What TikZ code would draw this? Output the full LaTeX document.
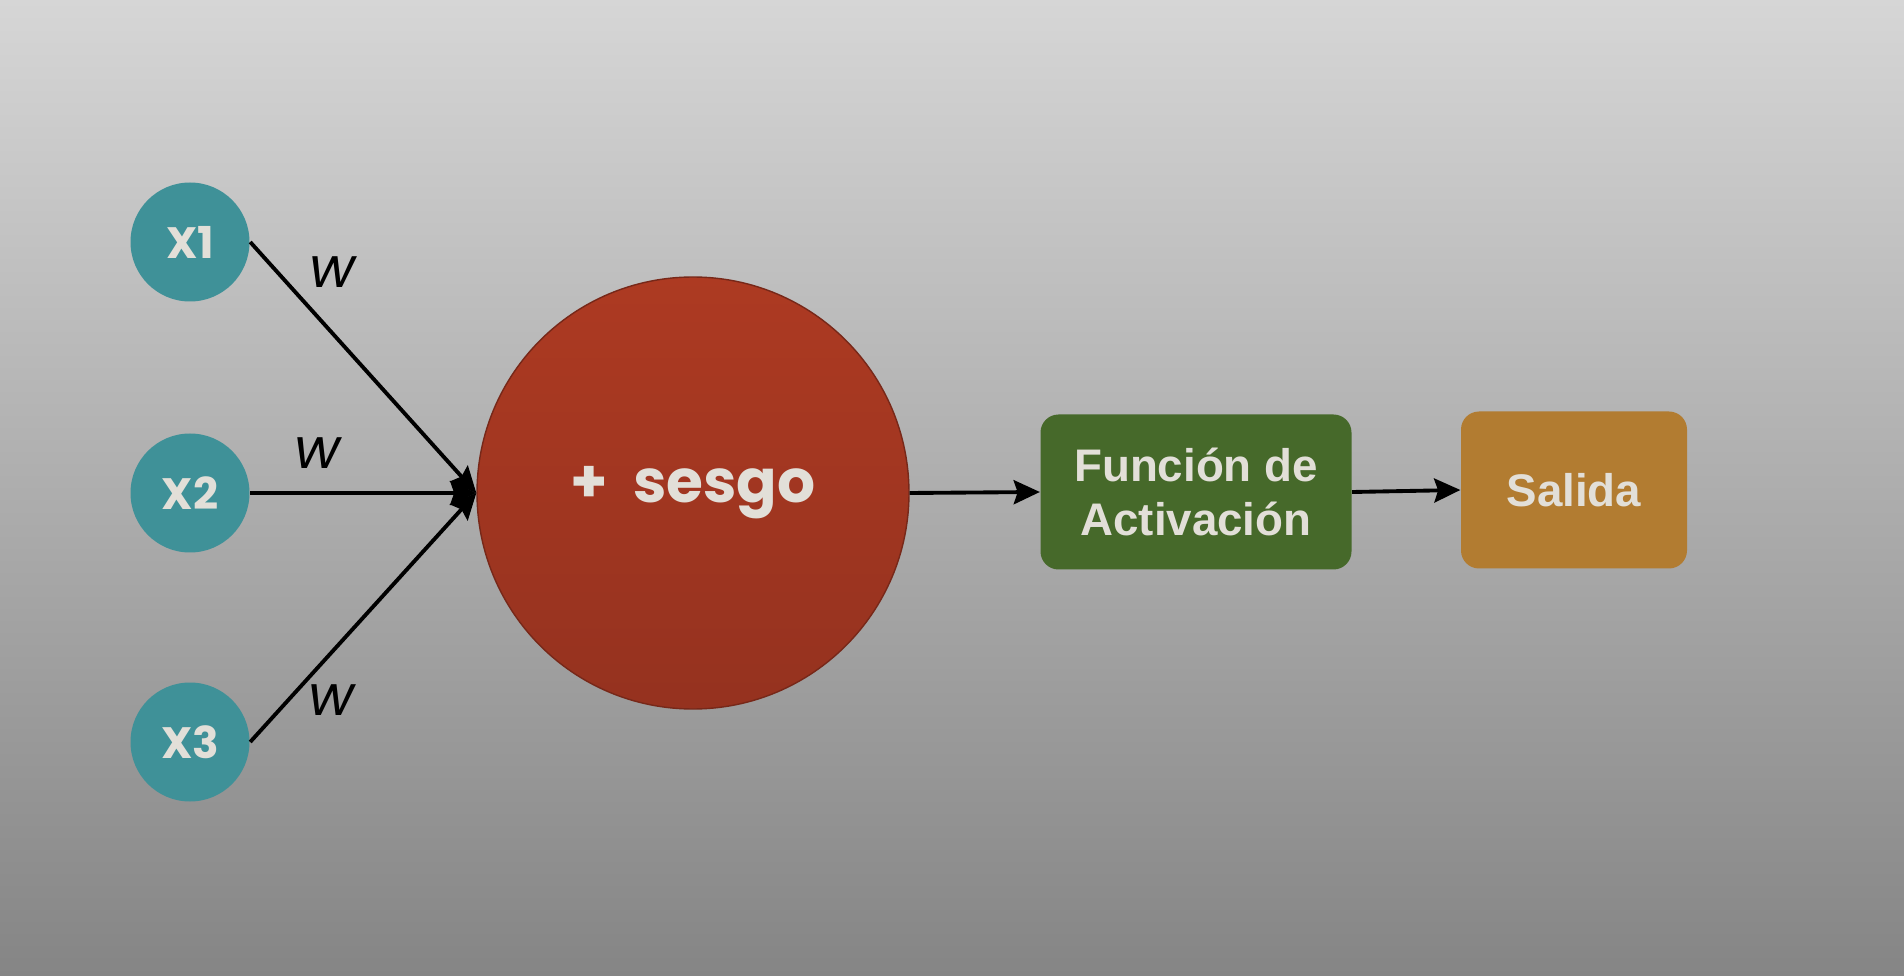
\documentclass[tikz,border=0pt]{standalone}
\usepackage{fontspec}
\setmainfont{Liberation Sans}
\newfontfamily\geofont{Poppins}
\usetikzlibrary{arrows.meta, positioning, shapes.geometric}
\definecolor{bgtop}{HTML}{D6D6D6}
\definecolor{bgbot}{HTML}{858585}
\definecolor{inpcol}{HTML}{3F9198}
\definecolor{redtop}{HTML}{AD3A22}
\definecolor{redbot}{HTML}{95321F}
\definecolor{actcol}{HTML}{46692A}
\definecolor{outcol}{HTML}{B27C31}
\definecolor{txt}{HTML}{E2DFD8}
\tikzstyle{inp} = [circle, inner sep=0pt, minimum size=1.19cm,
fill=inpcol, text=txt,
font=\geofont\bfseries\fontsize{12.5}{12.5}\selectfont]
\tikzstyle{neuron} = [circle, inner sep=0pt, minimum size=4.32cm,
top color=redtop, bottom color=redbot, draw=redbot!80!black, thin,
text=txt, font=\geofont\bfseries\fontsize{17}{17}\selectfont]
\tikzstyle{block} = [rectangle, rounded corners=0.18cm, inner sep=0pt,
text=txt, align=center, font=\bfseries\fontsize{13}{15.2}\selectfont]
\tikzstyle{weight} = [font=\geofont\itshape\fontsize{16}{16}\selectfont]
\tikzstyle{arrow} = [-{Stealth[length=7.5pt, width=7pt, inset=1.2pt, line width=0.4pt, color=black, fill=black]}, draw=black, line width=1.1pt]

\begin{document}
\begin{tikzpicture}
  % background
  \useasboundingbox (0,0) rectangle (19.04,-9.76);
  \fill[top color=bgtop, bottom color=bgbot] (0,0) rectangle (19.04,-9.76);

  \node[inp] (x1) at (1.90,-2.42) {X1};
  \node[inp] (x2) at (1.90,-4.93) {X2};
  \node[inp] (x3) at (1.90,-7.42) {X3};

  \node[neuron] (sum) at (6.93,-4.93) {+\ \ sesgo};

  \node[block, fill=actcol, minimum width=3.11cm, minimum height=1.55cm] (act) at (11.96,-4.92) {Función de\\Activación};
  \node[block, fill=outcol, minimum width=2.26cm, minimum height=1.57cm] (out) at (15.74,-4.90) {Salida};

  \draw[arrow] (x1.east) -- (sum.west);
  \draw[arrow] (x2.east) -- (sum.west);
  \draw[arrow] (x3.east) -- (sum.west);

  \node[weight] (w1) at (3.33,-2.72) {w};
  \node[weight] (w2) at (3.18,-4.53) {w};
  \node[weight] (w3) at (3.32,-7.00) {w};

  \draw[arrow] (sum.east) -- (act.west);
  \draw[arrow] (act.east) -- (out.west);
\end{tikzpicture}
\end{document}
